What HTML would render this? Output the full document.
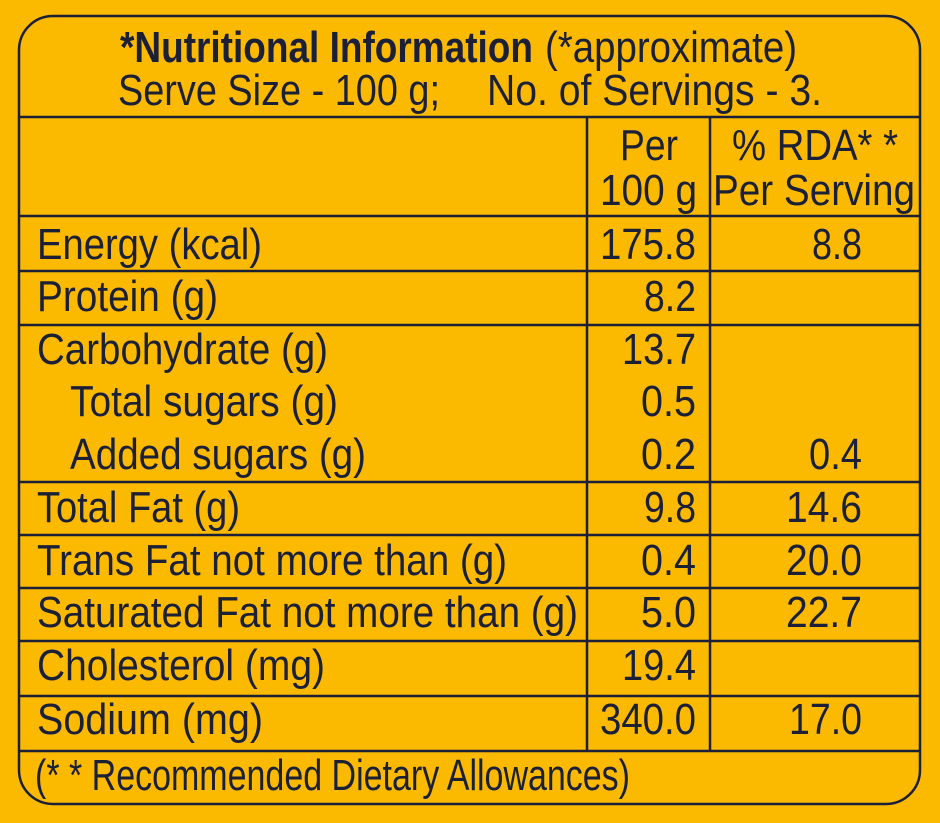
<!DOCTYPE html>
<html><head><meta charset="utf-8"><style>
html,body{margin:0;padding:0;background:#fbb900;}
svg{display:block}
text{font-family:"Liberation Sans Narrow","Liberation Sans",sans-serif;fill:#1c2036;font-size:44px}
</style></head><body>
<svg width="940" height="823" viewBox="0 0 940 823">
<rect width="940" height="823" fill="#fbb900"/>
<g stroke="#1c2036" stroke-width="2.5" fill="none">
<rect x="19" y="16" width="901" height="788" rx="34"/>
<line x1="19" y1="117" x2="920" y2="117"/>
<line x1="19" y1="216" x2="920" y2="216"/>
<line x1="19" y1="271" x2="920" y2="271"/>
<line x1="19" y1="325" x2="920" y2="325"/>
<line x1="19" y1="482" x2="920" y2="482"/>
<line x1="19" y1="535" x2="920" y2="535"/>
<line x1="19" y1="588" x2="920" y2="588"/>
<line x1="19" y1="641" x2="920" y2="641"/>
<line x1="19" y1="696" x2="920" y2="696"/>
<line x1="19" y1="751" x2="920" y2="751"/>
<line x1="587" y1="117" x2="587" y2="751"/>
<line x1="710" y1="117" x2="710" y2="751"/>
</g>
<text x="120" y="62" font-weight="bold" font-size="42" textLength="413" lengthAdjust="spacingAndGlyphs">*Nutritional Information</text>
<text x="545" y="62" font-size="40" textLength="252" lengthAdjust="spacingAndGlyphs">(*approximate)</text>
<text x="118" y="105" font-size="42" textLength="322" lengthAdjust="spacingAndGlyphs">Serve Size - 100 g;</text>
<text x="487" y="105" font-size="42" textLength="335" lengthAdjust="spacingAndGlyphs">No. of Servings - 3.</text>
<text x="620" y="160" textLength="58" lengthAdjust="spacingAndGlyphs">Per</text>
<text x="600" y="205" textLength="97" lengthAdjust="spacingAndGlyphs">100 g</text>
<text x="732" y="160" textLength="166" lengthAdjust="spacingAndGlyphs">% RDA* *</text>
<text x="713" y="205" textLength="202" lengthAdjust="spacingAndGlyphs">Per Serving</text>
<g>
<text x="37" y="259" textLength="225" lengthAdjust="spacingAndGlyphs">Energy (kcal)</text>
<text x="37" y="311" textLength="181" lengthAdjust="spacingAndGlyphs">Protein (g)</text>
<text x="37" y="364" textLength="291" lengthAdjust="spacingAndGlyphs">Carbohydrate (g)</text>
<text x="70" y="416" textLength="268" lengthAdjust="spacingAndGlyphs">Total sugars (g)</text>
<text x="70" y="469" textLength="296" lengthAdjust="spacingAndGlyphs">Added sugars (g)</text>
<text x="37" y="522" textLength="203" lengthAdjust="spacingAndGlyphs">Total Fat (g)</text>
<text x="37" y="575" textLength="470" lengthAdjust="spacingAndGlyphs">Trans Fat not more than (g)</text>
<text x="37" y="627" textLength="541" lengthAdjust="spacingAndGlyphs">Saturated Fat not more than (g)</text>
<text x="37" y="680" textLength="288" lengthAdjust="spacingAndGlyphs">Cholesterol (mg)</text>
<text x="37" y="734" textLength="226" lengthAdjust="spacingAndGlyphs">Sodium (mg)</text>
</g>
<g lengthAdjust="spacingAndGlyphs">
<text x="600" y="259" textLength="96" lengthAdjust="spacingAndGlyphs">175.8</text>
<text x="644" y="311" textLength="52" lengthAdjust="spacingAndGlyphs">8.2</text>
<text x="622" y="364" textLength="74" lengthAdjust="spacingAndGlyphs">13.7</text>
<text x="641" y="416" textLength="55" lengthAdjust="spacingAndGlyphs">0.5</text>
<text x="641" y="469" textLength="55" lengthAdjust="spacingAndGlyphs">0.2</text>
<text x="644" y="522" textLength="52" lengthAdjust="spacingAndGlyphs">9.8</text>
<text x="641" y="575" textLength="55" lengthAdjust="spacingAndGlyphs">0.4</text>
<text x="641" y="627" textLength="55" lengthAdjust="spacingAndGlyphs">5.0</text>
<text x="622" y="680" textLength="74" lengthAdjust="spacingAndGlyphs">19.4</text>
<text x="600" y="734" textLength="96" lengthAdjust="spacingAndGlyphs">340.0</text>
<text x="812" y="259" textLength="50" lengthAdjust="spacingAndGlyphs">8.8</text>
<text x="809" y="469" textLength="53" lengthAdjust="spacingAndGlyphs">0.4</text>
<text x="786" y="522" textLength="76" lengthAdjust="spacingAndGlyphs">14.6</text>
<text x="786" y="575" textLength="76" lengthAdjust="spacingAndGlyphs">20.0</text>
<text x="786" y="627" textLength="76" lengthAdjust="spacingAndGlyphs">22.7</text>
<text x="789" y="734" textLength="73" lengthAdjust="spacingAndGlyphs">17.0</text>
</g>
<text x="35" y="790" font-size="39" textLength="595" lengthAdjust="spacingAndGlyphs">(* * Recommended Dietary Allowances)</text>
</svg>
</body></html>
